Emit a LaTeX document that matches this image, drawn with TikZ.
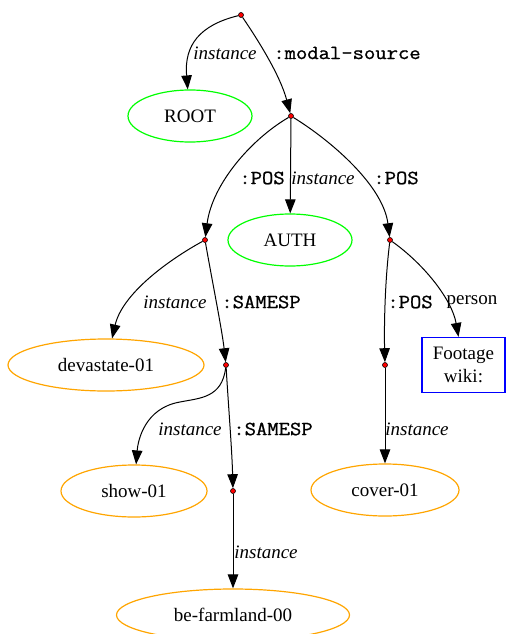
\documentclass[tikz,border=0pt]{standalone}
\usepackage{fontspec}
\setmainfont{Liberation Serif}
\setmonofont[FakeStretch=1.1,FakeBold=1]{Latin Modern Mono}
\usetikzlibrary{shapes.geometric,arrows.meta}
\definecolor{gvgreen}{HTML}{00FF00}
\definecolor{gvorange}{HTML}{FFA500}
\definecolor{gvblue}{HTML}{0000FF}
\begin{document}
\begin{tikzpicture}[x=1pt,y=-1pt,
  font=\fontsize{19}{22}\selectfont,
  dotnode/.style={circle,draw=black,fill=red,inner sep=0pt,minimum size=5pt,line width=0.6pt},
  ellnode/.style={ellipse,draw,inner sep=0pt,minimum height=52pt,line width=1.2pt},
  greennode/.style={ellnode,draw=gvgreen},
  orangenode/.style={ellnode,draw=gvorange},
  boxnode/.style={rectangle,draw=gvblue,line width=1.2pt,align=center,minimum width=83pt,minimum height=55pt,inner sep=0pt,font=\fontsize{19}{23}\selectfont},
  edge/.style={draw,line width=1pt,-{Triangle[length=14pt,width=10.5pt]}},
  ilabel/.style={font=\fontsize{19}{22}\selectfont\itshape,inner sep=0pt},
  rlabel/.style={font=\fontsize{19}{22}\selectfont,inner sep=0pt},
  tlabel/.style={font=\fontsize{20}{22}\selectfont\ttfamily,inner sep=0pt}]
\clip (0,0) rectangle (506,634);
\useasboundingbox (0,0) rectangle (506,634);

% nodes
\node[dotnode] (top) at (241,15) {};
\node[greennode,minimum width=124pt] (root) at (190,116) {ROOT};
\node[dotnode] (d2) at (291,116) {};
\node[greennode,minimum width=124pt] (auth) at (290,240) {AUTH};
\node[dotnode] (dL) at (205,240) {};
\node[dotnode] (dR) at (390,240) {};
\node[orangenode,minimum width=196pt] (dev) at (106,365) {devastate-01};
\node[dotnode] (d3) at (226,365) {};
\node[dotnode] (d4) at (385,365) {};
\node[boxnode] (foot) at (463.5,365) {Footage\\wiki:};
\node[orangenode,minimum width=146pt] (show) at (134,491) {show-01};
\node[dotnode] (d5) at (233,491) {};
\node[orangenode,minimum width=148pt] (cover) at (385,490) {cover-01};
\node[orangenode,minimum width=233pt] (farm) at (233,615) {be-farmland-00};

% edges
\draw[edge] (top) .. controls (200,25) and (184,45) .. (root);
\draw[edge] (top) .. controls (258,40) and (280,75) .. (d2);
\draw[edge] (d2) .. controls (250,140) and (212,185) .. (dL);
\draw[edge] (d2) -- (auth);
\draw[edge] (d2) .. controls (330,140) and (383,185) .. (dR);
\draw[edge] (dL) .. controls (165,262) and (122,295) .. (dev);
\draw[edge] (dL) .. controls (212,280) and (222,330) .. (d3);
\draw[edge] (dR) .. controls (385,280) and (384,325) .. (d4);
\draw[edge] (dR) .. controls (425,265) and (452,300) .. (foot);
\coordinate (s1) at (180,402);
\draw[edge] (d3) .. controls (222,398) and (200,398) .. (s1) .. controls (145,408) and (138,440) .. (show);
\draw[edge] (d3) .. controls (228,400) and (232,450) .. (d5);
\draw[edge] (d4) -- (cover);
\draw[edge] (d5) -- (farm);

% labels
\node[ilabel] (l1) at (225,53) {instance};
\node[tlabel] (l2) at (347,53) {:modal-source};
\node[tlabel] (l3) at (262,178) {:POS};
\node[ilabel] (l4) at (323,178) {instance};
\node[tlabel] (l5) at (396,178) {:POS};
\node[ilabel] (l6) at (175,302) {instance};
\node[tlabel] (l7) at (261,302) {:SAMESP};
\node[tlabel] (l8) at (410,302) {:POS};
\node[rlabel] (l9) at (472,302) {person};
\node[ilabel] (l10) at (190,429) {instance};
\node[tlabel] (l11) at (273,429) {:SAMESP};
\node[ilabel] (l12) at (417,429) {instance};
\node[ilabel] (l13) at (266,552) {instance};
\end{tikzpicture}
\end{document}
